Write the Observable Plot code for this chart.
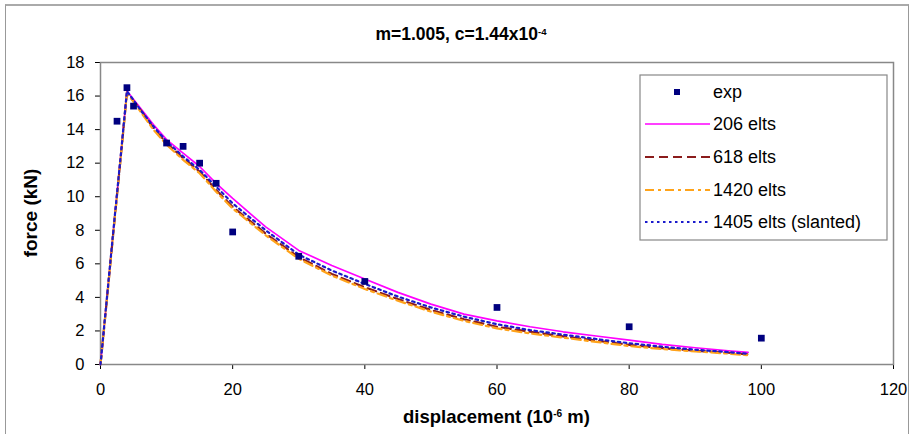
<!DOCTYPE html>
<html>
<head>
<meta charset="utf-8">
<script src="https://cdn.jsdelivr.net/npm/d3@7"></script>
<script src="https://cdn.jsdelivr.net/npm/@observablehq/plot@0.6"></script>
<style>
  html, body { margin: 0; padding: 0; background: #fff; }
  #wrap { position: relative; width: 914px; height: 436px; font-family: "Liberation Sans", Arial, sans-serif; }
  #outer { position: absolute; left: 5px; top: 4px; width: 904px; height: 430px; border: 1px solid #999; border-top: 2px solid #aaa; border-bottom: none; box-sizing: border-box; }
  #title { position: absolute; left: 0; width: 922px; top: 24px; text-align: center; font-weight: bold; font-size: 17.5px; color: #000; }
  #xlabel { position: absolute; left: 100px; width: 793px; top: 406px; text-align: center; font-weight: bold; font-size: 18.5px; color: #000; }
  #ylabel { position: absolute; left: 31px; top: 213px; transform: translate(-50%, -50%) rotate(-90deg); white-space: nowrap; font-weight: bold; font-size: 19px; color: #000; }
  sup { font-size: 0.55em; vertical-align: 0.55em; line-height: 0; }
  #chart { position: absolute; left: 0; top: 0; }
</style>
</head>
<body>
<div id="wrap">
  <div id="outer"></div>
  <div id="chart"></div>
  <div id="title">m=1.005, c=1.44x10<sup>-4</sup></div>
  <div id="xlabel">displacement (10<sup>-6</sup> m)</div>
  <div id="ylabel">force (kN)</div>
</div>
<script>
// Experimental points
const expX = [2.5, 4, 5, 10, 12.5, 15, 17.5, 20, 30, 40, 60, 80, 100];
const expY = [14.5, 16.5, 15.4, 13.2, 13.0, 12.0, 10.8, 7.9, 6.45, 4.95, 3.4, 2.25, 1.57];

// Simulation curves (shared displacement grid)
const simX = [0, 1, 2, 3, 4, 6, 8, 10, 12.5, 15, 17.5, 20, 25, 30, 35, 40, 45, 50, 55, 60, 65, 70, 75, 80, 85, 90, 95, 98];
const y206  = [0, 4.1, 8.2, 12.2, 16.3, 15.3, 14.3, 13.4, 12.6, 11.8, 10.8, 9.9, 8.2, 6.8, 5.9, 5.1, 4.3, 3.6, 3.0, 2.6, 2.25, 1.95, 1.7, 1.45, 1.2, 1.0, 0.82, 0.72];
const y618  = [0, 4.0, 8.1, 12.1, 16.2, 15.2, 14.1, 13.2, 12.3, 11.5, 10.4, 9.4, 7.8, 6.4, 5.4, 4.6, 3.9, 3.25, 2.7, 2.25, 1.95, 1.68, 1.42, 1.17, 0.98, 0.82, 0.7, 0.6];
const y1420 = [0, 4.0, 8.1, 12.1, 16.2, 15.1, 14.0, 13.1, 12.2, 11.4, 10.3, 9.3, 7.7, 6.3, 5.3, 4.5, 3.8, 3.15, 2.6, 2.15, 1.85, 1.6, 1.35, 1.1, 0.92, 0.78, 0.65, 0.55];
const y1405 = [0, 4.1, 8.2, 12.2, 16.3, 15.2, 14.2, 13.3, 12.4, 11.6, 10.6, 9.6, 8.0, 6.55, 5.6, 4.8, 4.05, 3.4, 2.85, 2.4, 2.05, 1.78, 1.52, 1.27, 1.06, 0.88, 0.74, 0.64];

const xTicks = [0, 20, 40, 60, 80, 100, 120];
const yTicks = [0, 2, 4, 6, 8, 10, 12, 14, 16, 18];

const series = [
  {name: "206 elts", ys: y206, stroke: "#ff00ff", dash: null, width: 1.7},
  {name: "618 elts", ys: y618, stroke: "#8b1c1c", dash: "9,5", width: 2.2},
  {name: "1420 elts", ys: y1420, stroke: "#ffa31a", dash: "9,4,3,4", width: 2.2},
  {name: "1405 elts (slanted)", ys: y1405, stroke: "#1a1acc", dash: "2.5,3.5", width: 2.2}
];

const expData = expX.map((x, i) => ({x, y: expY[i]}));

const lineMarks = series.map(s => Plot.line(simX.map((x, i) => ({x, y: s.ys[i]})), {
  x: "x", y: "y", stroke: s.stroke, strokeWidth: s.width, strokeDasharray: s.dash
}));

const plot = Plot.plot({
  width: 914,
  height: 436,
  marginLeft: 100,
  marginRight: 21,
  marginTop: 62,
  marginBottom: 72,
  style: {fontFamily: "'Liberation Sans', Arial, sans-serif", fontSize: "16.5px", color: "#000", background: "transparent"},
  x: {domain: [0, 120], ticks: xTicks, tickSize: 5, tickPadding: 14, label: null},
  y: {domain: [0, 18], ticks: yTicks, tickSize: 5, tickPadding: 11, label: null},
  marks: [
    Plot.frame({stroke: "#888", strokeWidth: 1.5}),
    ...lineMarks,
    Plot.dot(expData, {x: "x", y: "y", symbol: "square", r: 3.8, fill: "#00007f", stroke: "none"})
  ]
});
document.getElementById("chart").appendChild(plot);

// Legend
const svg = d3.select(plot);
const lg = svg.append("g").attr("font-family", "'Liberation Sans', Arial, sans-serif").attr("font-size", 18).attr("text-anchor", "start");
lg.append("rect").attr("x", 640).attr("y", 75).attr("width", 247).attr("height", 165)
  .attr("fill", "#fff").attr("stroke", "#888").attr("stroke-width", 1.2);
const rowY = [92, 124, 157, 190, 222];
lg.append("rect").attr("x", 674).attr("y", rowY[0] - 3).attr("width", 6).attr("height", 6).attr("fill", "#00007f");
lg.append("text").attr("x", 713).attr("y", rowY[0]).attr("dy", "0.35em").text("exp");
series.forEach((s, i) => {
  const y = rowY[i + 1];
  lg.append("line").attr("x1", 645).attr("x2", 710).attr("y1", y).attr("y2", y)
    .attr("stroke", s.stroke).attr("stroke-width", s.width).attr("stroke-dasharray", s.dash);
  lg.append("text").attr("x", 713).attr("y", y).attr("dy", "0.35em").text(s.name);
});
</script>
</body>
</html>
